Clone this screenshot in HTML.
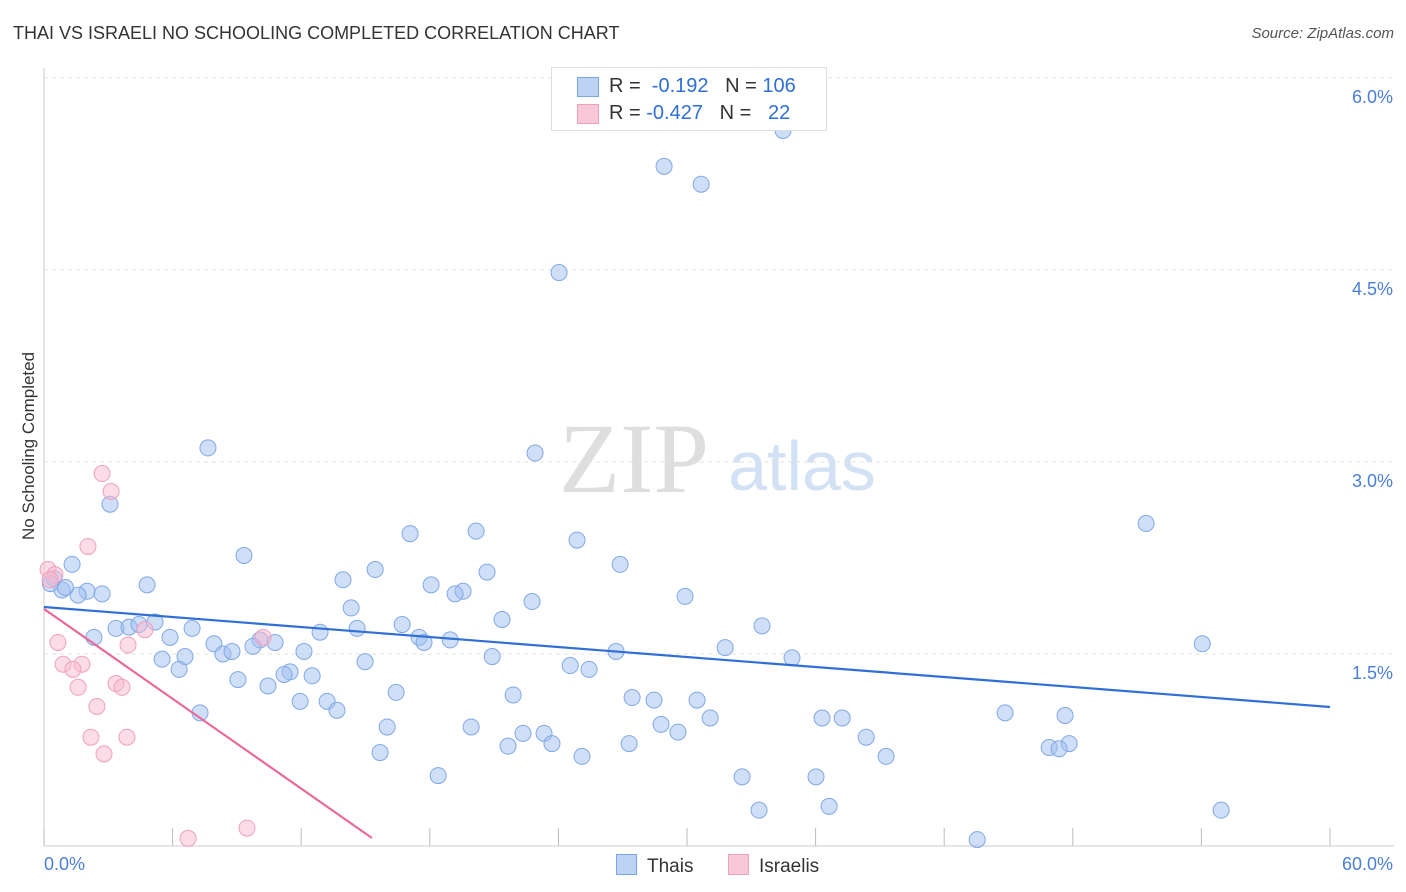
<!DOCTYPE html>
<html><head><meta charset="utf-8">
<style>
body{margin:0;background:#fff;font-family:"Liberation Sans",sans-serif;}
#wrap{position:relative;width:1406px;height:892px;overflow:hidden;}
.t{position:absolute;white-space:nowrap;}
</style></head>
<body>
<div id="wrap">
<div class="t" style="left:13px;top:23px;font-size:18px;color:#333;">THAI VS ISRAELI NO SCHOOLING COMPLETED CORRELATION CHART</div>
<div class="t" style="right:12px;top:25px;font-size:15px;color:#555;font-style:italic;">Source: ZipAtlas.com</div>
<div class="t" style="left:-56px;top:445px;font-size:17px;color:#333;transform:rotate(-90deg);width:170px;text-align:center;">No Schooling Completed</div>
<svg id="svg" width="1406" height="892" style="position:absolute;left:0;top:0;"></svg>
<div style="position:absolute;left:551px;top:67px;width:274px;height:62px;border:1px solid #ddd;background:#fff;font-size:20px;">
 <div style="position:absolute;left:25px;top:9px;width:20px;height:18px;background:#bcd3f5;border:1px solid #7aa6e8;"></div>
 <div class="t" style="left:57px;top:7px;color:#333;">R = &nbsp;<span style="color:#2f6fd6">-0.192</span> &nbsp; N = <span style="color:#2f6fd6">106</span></div>
 <div style="position:absolute;left:25px;top:36px;width:20px;height:18px;background:#f8c8d8;border:1px solid #f0a0bd;"></div>
 <div class="t" style="left:57px;top:34px;color:#333;">R = <span style="color:#2f6fd6">-0.427</span> &nbsp; N = &nbsp; <span style="color:#2f6fd6">22</span></div>
</div>
<div style="position:absolute;left:616px;top:854px;font-size:19px;color:#333;"><span style="display:inline-block;width:19px;height:19px;background:#bcd3f5;border:1px solid #7aa6e8;vertical-align:-3px;margin-right:10px;"></span>Thais</div>
<div style="position:absolute;left:728px;top:854px;font-size:19px;color:#333;"><span style="display:inline-block;width:19px;height:19px;background:#f8c8d8;border:1px solid #f0a0bd;vertical-align:-3px;margin-right:10px;"></span>Israelis</div>
</div>
<script>
const thaiX=[34.48,28.93,30.66,24.03,7.65,22.91,3.08,51.42,20.16,17.08,24.87,9.33,26.88,1.31,15.45,20.67,0.47,13.95,4.81,18.06,19.55,19.18,0.84,2.01,2.71,1.59,29.91,22.77,14.33,21.37,5.18,16.71,33.50,3.36,3.97,4.43,6.91,12.88,14.61,2.33,5.88,17.50,18.95,17.73,7.93,10.08,10.78,54.04,31.78,9.75,12.13,26.69,8.35,8.77,6.58,20.91,34.90,5.51,14.98,24.55,25.43,6.30,11.48,11.20,12.51,9.05,10.45,16.43,21.89,27.44,28.46,30.47,11.95,13.21,13.67,7.28,44.84,47.64,31.08,36.30,37.24,28.79,16.01,19.93,29.58,22.35,23.33,38.36,23.70,27.30,47.83,21.65,46.90,47.36,15.68,25.10,39.29,18.39,32.57,36.02,36.63,33.36,54.92,43.54,0.3,1.0];
const thaiY=[5.59,5.31,5.17,4.48,3.11,3.07,2.67,2.52,2.46,2.44,2.39,2.27,2.20,2.20,2.16,2.14,2.09,2.08,2.04,2.04,1.99,1.97,2.00,1.99,1.97,1.96,1.95,1.91,1.86,1.77,1.75,1.73,1.72,1.70,1.71,1.73,1.70,1.67,1.70,1.63,1.63,1.63,1.61,1.59,1.58,1.61,1.59,1.58,1.55,1.56,1.52,1.52,1.50,1.52,1.48,1.48,1.47,1.46,1.44,1.41,1.38,1.38,1.36,1.34,1.33,1.30,1.25,1.20,1.18,1.16,1.14,1.14,1.13,1.13,1.06,1.04,1.04,1.02,1.00,1.00,1.00,0.95,0.93,0.93,0.89,0.88,0.88,0.85,0.80,0.80,0.80,0.78,0.77,0.76,0.73,0.70,0.70,0.55,0.54,0.54,0.31,0.28,0.28,0.05,2.05,2.02];
const isrX=[0.19,0.51,2.71,3.13,2.05,0.65,4.71,3.92,10.22,0.89,1.77,1.35,1.59,3.36,3.64,2.47,2.19,3.87,2.80,9.47,6.72,0.28];
const isrY=[2.16,2.12,2.91,2.77,2.34,1.59,1.69,1.57,1.63,1.42,1.42,1.38,1.24,1.27,1.24,1.09,0.85,0.85,0.72,0.14,0.06,2.08];
const thaiLine=[0,1.867,60,1.086];
const isrLine=[0,1.852,15.3,0.0625];
const yTicks=[1.5,3.0,4.5,6.0];
const yTickLabels=["1.5%","3.0%","4.5%","6.0%"];
const xTicks=[0,6,12,18,24,30,36,42,48,54,60];

const svg=document.getElementById('svg');
const NS='http://www.w3.org/2000/svg';
const X=v=>44+v*(1286/60);
const Y=v=>846-v*128;
function mk(tag,attrs){const e=document.createElementNS(NS,tag);for(const k in attrs)e.setAttribute(k,attrs[k]);svg.appendChild(e);return e;}
let w=mk('text',{x:634,y:492,'font-size':100,'font-family':'Liberation Serif',fill:'#dedede','text-anchor':'middle'});w.textContent='ZIP';


let w2=mk('text',{x:802,y:490,'font-size':70,'font-family':'Liberation Sans',fill:'#d3e1f5','text-anchor':'middle'});w2.textContent='atlas';


yTicks.forEach((v,i)=>{
 const g=mk('line',{x1:44,x2:1394,y1:Y(v),y2:Y(v),stroke:'#e2e2e2','stroke-dasharray':'4,4'});
 
 
 const t=mk('text',{x:1393,y:Y(v)+25,'font-size':18,fill:'#4a7fd8','text-anchor':'end','font-family':'Liberation Sans'});
 t.textContent=yTickLabels[i];
 
 
});
const ax=mk('line',{x1:44,x2:44,y1:68,y2:846,stroke:'#ccc'});


const bx=mk('line',{x1:44,x2:1394,y1:846,y2:846,stroke:'#ccc'});


xTicks.forEach(v=>{const t=mk('line',{x1:X(v),x2:X(v),y1:828,y2:846,stroke:'#bbb'});
 
 });
[[0,"0.0%",'start',44],[60,"60.0%",'end',1393]].forEach(a=>{const t=mk('text',{x:a[3],y:870,'font-size':18,fill:'#4a7fd8','text-anchor':a[2],'font-family':'Liberation Sans'});t.textContent=a[1];
 
 });
thaiX.forEach((v,i)=>{const c=mk('circle',{cx:X(v),cy:Y(thaiY[i]),r:8,fill:'rgba(160,192,240,0.5)',stroke:'#80a8e8','stroke-width':1});
 
 });
isrX.forEach((v,i)=>{const c=mk('circle',{cx:X(v),cy:Y(isrY[i]),r:8,fill:'rgba(248,185,208,0.5)',stroke:'#f0a0bd','stroke-width':1});
 
 });
const l1=mk('line',{x1:X(thaiLine[0]),y1:Y(thaiLine[1]),x2:X(thaiLine[2]),y2:Y(thaiLine[3]),stroke:'#2f6fd6','stroke-width':2.2});


const l2=mk('line',{x1:X(isrLine[0]),y1:Y(isrLine[1]),x2:X(isrLine[2]),y2:Y(isrLine[3]),stroke:'#e8699a','stroke-width':2.2});


</script>
</body></html>
